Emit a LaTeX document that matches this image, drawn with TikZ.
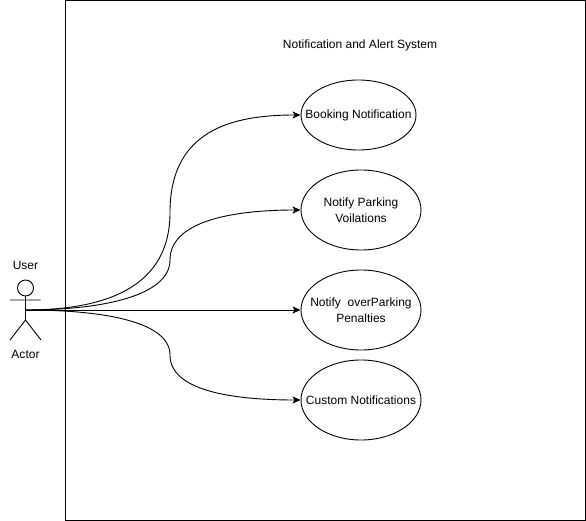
\documentclass[tikz,border=0pt]{standalone}
\usepackage{fontspec}
\setmainfont{Liberation Sans}
\usetikzlibrary{arrows.meta,shapes.geometric}
\tikzset{
  usecase/.style={draw,ellipse,inner sep=-30pt,align=center,minimum width=#1},
  usecase/.default=120pt,
  lbl/.style={inner sep=0pt,align=center},
  link/.style={-{Stealth[length=8pt,width=7pt,inset=2pt]}},
}
\begin{document}
\begin{tikzpicture}[x=1pt,y=-1pt,line width=0.9pt,font=\fontsize{12}{15.5}\selectfont]
    \useasboundingbox (0,0) rectangle (586,521);
    \draw (65.5,0.5) rectangle (585.5,520.5);
    \draw
    (360,45.5) node[lbl](Title){Notification and Alert System}
    (25.5,265) node[lbl](User){User}
    (25.5,354) node[lbl](Actor){Actor}
    (25.5,288) node[draw,circle,inner sep=0pt,minimum size=16pt](Head){}
    (358.5,115) node[usecase=115pt,minimum height=70pt](Booking){Booking Notification}
    (361,210) node[usecase,minimum height=80pt](Violation){Notify Parking\\Voilations}
    (361,310) node[usecase,minimum height=80pt](Penalty){Notify\ \ overParking\\Penalties}
    (361,400) node[usecase,minimum height=80pt](Custom){Custom Notifications};
    \coordinate (Hip) at (25.5,320);
    \coordinate (Waist) at (25.5,310);
    \coordinate (ArmL) at (10,300);
    \coordinate (ArmR) at (40.5,300);
    \coordinate (FootL) at (10,340);
    \coordinate (FootR) at (41,340);
    \draw (Head) -- (Hip) (ArmL) -- (ArmR)
          (FootL) -- (Hip) -- (FootR);
    \draw[link] (Waist) .. controls (108,310) and (170,286) .. (170,212.5)
          .. controls (170,130) and (232,115) .. (Booking.west);
    \draw[link] (Waist) .. controls (105,310) and (170,295) .. (170,260)
          .. controls (170,222) and (230,210) .. (Violation.west);
    \draw[link] (Waist) -- (Penalty.west);
    \draw[link] (Waist) .. controls (105,310) and (170,322) .. (170,355)
          .. controls (170,390) and (230,400) .. (Custom.west);
  \end{tikzpicture}
\end{document}
